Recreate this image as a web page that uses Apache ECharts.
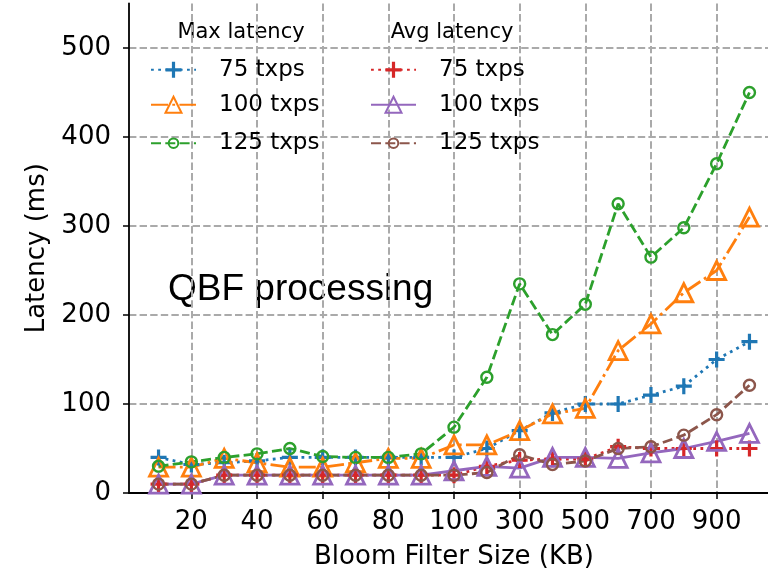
<!DOCTYPE html>
<html><head><meta charset="utf-8">
<script src="https://cdn.jsdelivr.net/npm/echarts@6/dist/echarts.min.js"></script>
<style>html,body{margin:0;padding:0;background:#fff}#c{width:768px;height:577px}</style>
</head><body><div id="c"></div>
<script>
const sizes = [10,20,30,40,50,60,70,80,90,100,200,300,400,500,600,700,800,900,1000];
const maxLat75  = [40,32,34,36,40,40,40,40,40,40,50,70,90,100,100,110,120,150,170];
const maxLat100 = [29,29,39,34,29,29,34,39,39,54,54,70,89,95,160,190,225,250,310];
const maxLat125 = [30,35,40,44,50,41,40,40,44,74,130,235,178,212,325,265,298,370,450];
const avgLat75  = [10,10,20,20,20,20,20,20,20,20,30,37,38,38,52,50,50,50,50];
const avgLat100 = [10,10,20,20,20,20,20,20,20,25,30,28,40,40,39,45,50,58,67];
const avgLat125 = [10,10,20,20,20,20,20,20,20,20,23,43,32,36,50,52,65,88,121];
const yTicks = [0,100,200,300,400,500];
const xTickIdx = [1,3,5,7,9,11,13,15,17];

const FONT = 'DejaVu Sans';
const PLUS = 'path://M4,0H6V4H10V6H6V10H4V6H0V4H4Z';
const C = {blue:'#1f77b4', orange:'#ff7f0e', green:'#2ca02c', red:'#d62728', purple:'#9467bd', brown:'#8c564b'};
const DOT = [2.8,4.4], DASH = [10,4.3], DASHDOT = [17,4.3,2.8,4.3];

function mk(name, vals, color, dash, kind) {
  const s = {
    name, type:'line', data: vals.map((v,i)=>[i,v]),
    lineStyle:{color, width:2.8, type:dash},
    emphasis:{disabled:true}, animation:false
  };
  if (kind==='plus') { s.symbol = PLUS; s.symbolSize = 16; s.itemStyle = {color, borderWidth:0}; }
  else if (kind==='tri') { s.symbol = 'triangle'; s.symbolSize = 18; s.itemStyle = {color:'rgba(0,0,0,0)', borderColor:color, borderWidth:2.8}; }
  else { s.symbol = 'circle'; s.symbolSize = 11; s.itemStyle = {color:'rgba(0,0,0,0)', borderColor:color, borderWidth:2.4}; }
  return s;
}

const series = [
  mk('Max 75 txps', maxLat75, C.blue, DOT, 'plus'),
  mk('Max 100 txps', maxLat100, C.orange, DASHDOT, 'tri'),
  mk('Max 125 txps', maxLat125, C.green, DASH, 'circ'),
  mk('Avg 75 txps', avgLat75, C.red, DOT, 'plus'),
  mk('Avg 100 txps', avgLat100, C.purple, 'solid', 'tri'),
  mk('Avg 125 txps', avgLat125, C.brown, DASH, 'circ')
];

function lg(name, left, cy, ih) {
  return {
    data:[name], left, top: cy - ih/2, padding:0, itemWidth:45, itemHeight:ih,
    selectedMode:false, formatter: n => n.replace(/^(Max|Avg) /,''),
    textStyle:{fontFamily:FONT, fontSize:23, color:'#000', padding:[0,0,0,18]}
  };
}
const rows = [68.3, 103.3, 137.7];

const chart = echarts.init(document.getElementById('c'), null, {renderer:'canvas'});
chart.setOption({
  animation:false,
  backgroundColor:'#fff',
  grid:{left:129, top:3.5, width:650, height:489.5, outerBoundsMode:'none', containLabel:false},
  xAxis:{
    type:'value', min:-0.9, max:18.9,
    name:'Bloom Filter Size (KB)', nameLocation:'middle', nameGap:51,
    nameTextStyle:{fontFamily:FONT, fontSize:26, color:'#000'},
    axisLine:{show:true, onZero:false, lineStyle:{color:'#000', width:1.8}},
    axisTick:{show:true, customValues:xTickIdx, length:6, lineStyle:{color:'#000', width:1.5}},
    axisLabel:{customValues:xTickIdx, formatter:v=>String(sizes[Math.round(v)]), color:'#000', fontFamily:FONT, fontSize:26, margin:16},
    splitLine:{show:true, lineStyle:{color:'#aaaaaa', width:2, type:[7.4,3.2]}}
  },
  yAxis:{
    type:'value', min:0, max:550,
    name:'Latency (ms)', nameLocation:'middle', nameGap:78, nameRotate:90,
    nameTextStyle:{fontFamily:FONT, fontSize:26, color:'#000'},
    axisLine:{show:true, onZero:false, lineStyle:{color:'#000', width:1.8}},
    axisTick:{show:true, customValues:yTicks, length:6, lineStyle:{color:'#000', width:1.5}},
    axisLabel:{customValues:yTicks, color:'#000', fontFamily:FONT, fontSize:26, margin:18},
    splitLine:{show:true, lineStyle:{color:'#aaaaaa', width:2, type:[7.4,3.2]}}
  },
  legend:[
    lg('Max 75 txps', 150, rows[0], 20),
    lg('Max 100 txps', 150, rows[1], 20),
    lg('Max 125 txps', 150, rows[2], 12),
    lg('Avg 75 txps', 370, rows[0], 20),
    lg('Avg 100 txps', 370, rows[1], 20),
    lg('Avg 125 txps', 370, rows[2], 12)
  ],
  graphic:[
    {type:'text', x:241, y:33, style:{text:'Max latency', font:'21px "DejaVu Sans"', fill:'#000', align:'center', verticalAlign:'middle'}},
    {type:'text', x:452, y:33, style:{text:'Avg latency', font:'21px "DejaVu Sans"', fill:'#000', align:'center', verticalAlign:'middle'}},
    {type:'text', x:168, y:290, style:{text:'QBF processing', font:'37px "Liberation Sans"', fill:'#000', align:'left', verticalAlign:'middle'}}
  ],
  series
});
</script></body></html>
